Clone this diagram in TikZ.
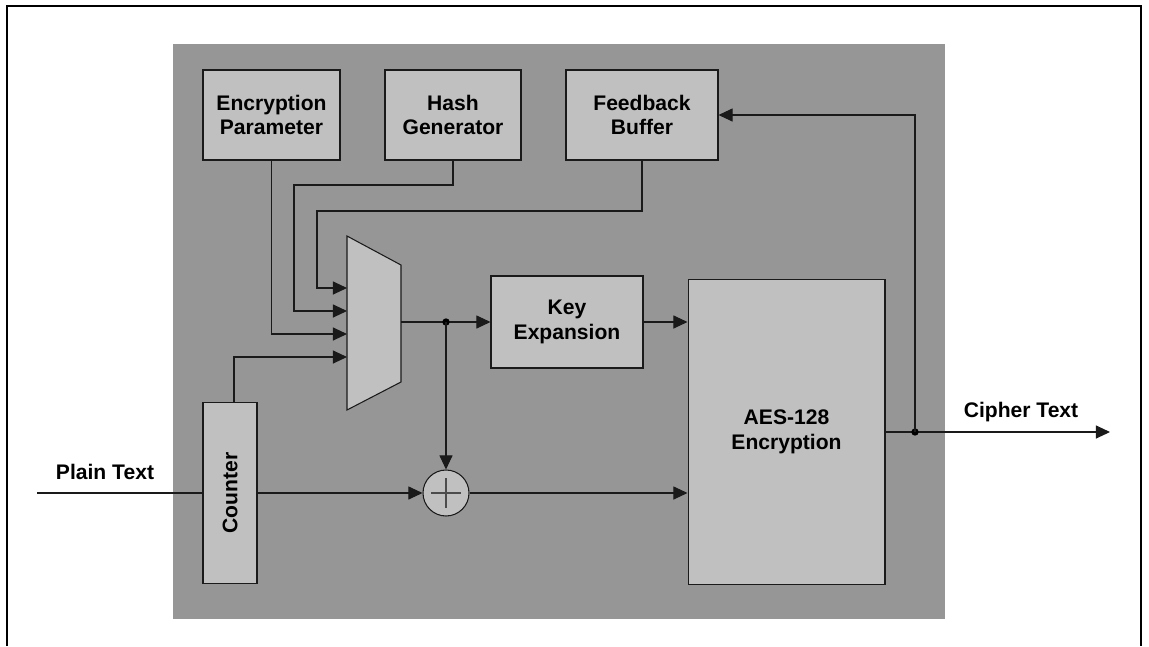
\documentclass[tikz,border=0pt]{standalone}
\usepackage{fontspec}
\usepackage{graphicx}
\setmainfont{Liberation Sans}
\usetikzlibrary{arrows.meta,calc}
\definecolor{bggray}{HTML}{969696}
\definecolor{boxgray}{HTML}{C0C0C0}
\definecolor{linecol}{HTML}{1A1A1A}
\tikzset{
  blk/.style={draw=linecol, line width=0.6pt, fill=boxgray, align=center, inner sep=0pt,
    font=\fontsize{12}{14}\selectfont\bfseries},
  wire/.style={draw=linecol, line width=0.6pt},
  arr/.style={wire, -{Triangle[length=8pt,width=7.4pt]}},
  lbl/.style={font=\fontsize{12}{14}\selectfont\bfseries, inner sep=0pt},
  junction/.style={circle, fill=black, inner sep=0pt, minimum size=4.2pt}
}
\begin{document}
\begin{tikzpicture}[x=0.02cm,y=-0.02cm]
\useasboundingbox (0,0) rectangle (1149,646);
% outer frame (open at bottom)
\draw[line width=1.5pt, black] (7,646) -- (7,6) -- (1141,6) -- (1141,646);
% gray area
\fill[bggray] (173,44) rectangle (945,619);

% blocks
\node[blk, minimum width=2.74cm, minimum height=1.8cm] (ep) at (271.5,115) {Encryption\\Parameter};
\node[blk, minimum width=2.72cm, minimum height=1.8cm] (hg) at (453,115) {Hash\\Generator};
\node[blk, minimum width=3.04cm, minimum height=1.8cm] (fb) at (642,115) {Feedback\\Buffer};
\node[blk, minimum width=1.08cm, minimum height=3.62cm] (cnt) at (230,493) {\rotatebox{90}{Counter}};
\node[blk, minimum width=3.04cm, minimum height=1.84cm] (ke) at (567,322) {Key\\Expansion};
\node[blk, minimum width=3.94cm, minimum height=6.1cm] (aes) at (786.5,432) {AES-128\\Encryption};
\node[blk, circle, minimum size=0.92cm] (xor) at (446,493) {};
\draw[line width=0.6pt, black!70] ($(xor.center)+(-15,0)$) -- ($(xor.center)+(15,0)$)
  ($(xor.center)+(0,-15)$) -- ($(xor.center)+(0,15)$);

% multiplexer
\draw[wire, fill=boxgray] (347,236) -- (401,265) -- (401,382) -- (347,410) -- cycle;
\coordinate (mi1) at (347,288);
\coordinate (mi2) at (347,311);
\coordinate (mi3) at (347,334);
\coordinate (mi4) at (347,357);
\coordinate (mo) at (401,322);

% mux inputs
\draw[arr] (fb.south) |- (317,211) |- (mi1);
\draw[arr] (hg.south) |- (294,185) |- (mi2);
\draw[arr] (ep.south) |- (mi3);
\draw[arr] ([xshift=0.08cm]cnt.north) |- (mi4);

% mux output
\coordinate (j1) at (446,322);
\draw[arr] (mo) -- (ke.west);
\node[junction] at (j1) {};
\draw[arr] (j1) -- (xor.north);
\draw[arr] (ke.east) -- (ke.east -| aes.west);

% plain text path
\coordinate (pin) at (37,493);
\draw[wire] (pin) -- (cnt.west);
\draw[arr] (cnt.east) -- (xor.west);
\draw[arr] (xor.east) -- (xor.east -| aes.west);
\node[lbl, anchor=base] (ptl) at (105,479) {Plain Text};

% output
\coordinate (cout) at (1110,432);
\coordinate (j2) at (915,432);
\draw[arr] (aes.east) -- (cout);
\node[junction] at (j2) {};
\draw[arr] (j2) |- (fb.east);
\node[lbl, anchor=base] (ctl) at (1021,417) {Cipher Text};
\end{tikzpicture}
\end{document}
